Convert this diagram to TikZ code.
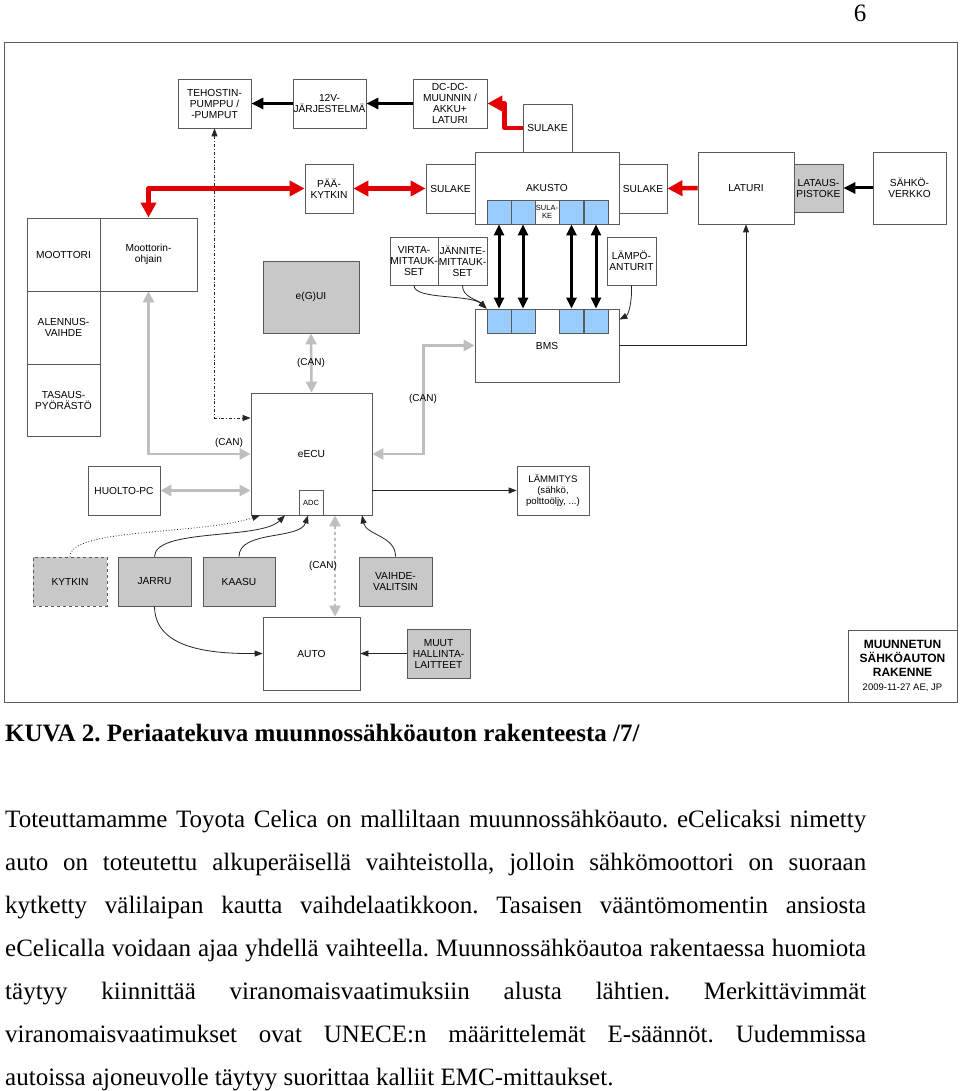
\documentclass[tikz,border=0pt]{standalone}
\usepackage{fontspec}
\setmainfont{Liberation Serif}
\newfontfamily\dgfont{Liberation Sans}
\usetikzlibrary{arrows.meta}
\definecolor{cellblue}{RGB}{153,204,255}
\definecolor{boxgray}{RGB}{200,200,200}
\definecolor{arrgray}{RGB}{190,190,190}
\definecolor{arrred}{RGB}{228,0,0}
\definecolor{framegray}{RGB}{90,90,90}
\frenchspacing
\begin{document}
\begin{tikzpicture}[x=1pt,y=-1pt,
  box/.style={draw=framegray, line width=0.8pt, align=center, inner sep=0pt,
    font=\dgfont\fontsize{10.2}{11}\selectfont},
  gbox/.style={box, fill=boxgray},
  cell/.style={draw=framegray, line width=0.8pt, fill=cellblue, minimum width=24pt, minimum height=24pt, inner sep=0pt},
  redarr/.style={draw=arrred, line width=4.5pt, arrows={-Triangle[length=15pt,width=15pt]}},
  redarrb/.style={draw=arrred, line width=4.5pt, arrows={Triangle[length=15pt,width=15pt]-Triangle[length=15pt,width=15pt]}},
  blkarr/.style={draw=black, line width=3pt, arrows={-Triangle[length=12pt,width=11pt]}},
  blkarrb/.style={draw=black, line width=3pt, arrows={Triangle[length=11pt,width=10pt]-Triangle[length=11pt,width=10pt]}},
  grayarrb/.style={draw=arrgray, line width=2.6pt, arrows={Triangle[length=11pt,width=11pt]-Triangle[length=11pt,width=11pt]}},
  thinarr/.style={draw=black!85, line width=0.8pt, arrows={-Triangle[length=8pt,width=6pt]}},
  thinarrb/.style={draw=black!85, line width=0.8pt, arrows={Triangle[length=8pt,width=6pt]-Triangle[length=8pt,width=6pt]}},
  canlbl/.style={font=\dgfont\fontsize{10}{11}\selectfont, inner sep=1pt},
  bodyline/.style={anchor=base west, inner sep=0pt, font=\fontsize{25}{30}\selectfont}
]
\useasboundingbox (0,0) rectangle (960,1091);
\fill[white] (0,0) rectangle (960,1091);

% page number
\node[anchor=base, inner sep=0pt, font=\fontsize{25}{30}\selectfont] (pnum) at (860,22) {6};

% frame
\draw[framegray, line width=1pt] (4,43) rectangle (957,702);

% top row
\node[box, minimum width=73pt, minimum height=49pt] (teh) at (214.5,103.5) {TEHOSTIN-\\PUMPPU /\\-PUMPUT};
\node[box, minimum width=73pt, minimum height=49pt] (v12) at (329.5,103.5) {12V-\\JÄRJESTELMÄ};
\node[box, minimum width=74pt, minimum height=49pt] (dcdc) at (450,103.5) {DC-DC-\\MUUNNIN /\\AKKU+\\LATURI};

\node[box, minimum width=48pt, minimum height=49pt] (paa) at (329,188.5) {PÄÄ-\\KYTKIN};
\node[box, minimum width=49pt, minimum height=49pt] (sulL) at (450.5,188.5) {SULAKE};
\node[box, minimum width=49pt, minimum height=48pt] (sulT) at (547.5,128) {SULAKE};
\node[box, minimum width=48pt, minimum height=49pt] (sulR) at (643,188.5) {SULAKE};
\node[box, minimum width=144pt, minimum height=72pt] (akusto) at (547,188) {AKUSTO};
\node[box, minimum width=96pt, minimum height=72pt] (laturi) at (746,188) {LATURI};
\node[gbox, minimum width=49pt, minimum height=48pt] (lataus) at (818.5,188) {LATAUS-\\PISTOKE};
\node[box, minimum width=73pt, minimum height=72pt] (sahko) at (909.5,188) {SÄHKÖ-\\VERKKO};

% akusto cells
\node[cell] (a1) at (499,212) {};
\node[cell] (a2) at (523,212) {};
\node[cell, fill=white, font=\dgfont\fontsize{7.5}{8.5}\selectfont, align=center] (asul) at (547,212) {SULA-\\KE};
\node[cell] (a3) at (571.5,212) {};
\node[cell] (a4) at (596,212) {};

% left column
\node[box, minimum width=73pt, minimum height=73pt] (moot) at (63.5,254.5) {MOOTTORI};
\node[box, minimum width=97pt, minimum height=73pt] (mohj) at (148.5,254.5) {Moottorin-\\ohjain};
\node[box, minimum width=73pt, minimum height=73pt] (alen) at (63.5,327.5) {ALENNUS-\\VAIHDE};
\node[box, minimum width=73pt, minimum height=72pt] (tasa) at (63.5,400) {TASAUS-\\PYÖRÄSTÖ};

% middle
\node[gbox, minimum width=96pt, minimum height=72pt] (egui) at (311,297) {e(G)UI};
\node[box, minimum width=121pt, minimum height=122pt] (eecu) at (311.5,454) {eECU};
\node[box, minimum width=24pt, minimum height=25pt, font=\dgfont\fontsize{7.5}{8.5}\selectfont] (adc) at (311,502.5) {ADC};

\node[box, minimum width=48pt, minimum height=48pt] (virta) at (414,261) {VIRTA-\\MITTAUK-\\SET};
\node[box, minimum width=49pt, minimum height=48pt] (jann) at (462.5,261) {JÄNNITE-\\MITTAUK-\\SET};
\node[box, minimum width=49pt, minimum height=48pt] (lampo) at (631.5,261) {LÄMPÖ-\\ANTURIT};

\node[box, minimum width=144pt, minimum height=73pt] (bms) at (547,345.5) {BMS};
\node[cell] (b1) at (499,321) {};
\node[cell] (b2) at (523,321) {};
\node[cell] (b3) at (571.5,321) {};
\node[cell] (b4) at (596,321) {};

\node[box, minimum width=72pt, minimum height=49pt, font=\dgfont\fontsize{9.6}{10.8}\selectfont] (lamm) at (553,490.5) {LÄMMITYS\\(sähkö,\\polttoöljy, ...)};
\node[box, minimum width=72pt, minimum height=49pt] (huolto) at (124,490.5) {HUOLTO-PC};

% bottom row
\node[gbox, dashed, minimum width=74pt, minimum height=49pt] (kytkin) at (70,581.5) {KYTKIN};
\node[gbox, minimum width=73pt, minimum height=49pt] (jarru) at (154.5,581.5) {JARRU};
\node[gbox, minimum width=72pt, minimum height=49pt] (kaasu) at (239,581.5) {KAASU};
\node[gbox, minimum width=73pt, minimum height=49pt] (vaihde) at (395.5,581.5) {VAIHDE-\\VALITSIN};
\node[box, minimum width=97pt, minimum height=73pt] (auto) at (311.5,653.5) {AUTO};
\node[gbox, minimum width=63pt, minimum height=49pt] (muut) at (438.5,653.5) {MUUT\\HALLINTA-\\LAITTEET};

% title box
\node[box, minimum width=109pt, minimum height=72pt, font=\dgfont\bfseries\fontsize{12}{14.3}\selectfont] (title) at (902.5,666)
  {MUUNNETUN\\SÄHKÖAUTON\\RAKENNE\\[-0.5pt]\mdseries\fontsize{9.5}{11}\selectfont 2009-11-27 AE, JP};

% ---- connectors ----
\draw[blkarr] (v12.west) -- (teh.east);
\draw[blkarr] (dcdc.west) -- (v12.east);
\draw[blkarr] (sahko.west) -- (lataus.east);

\draw[redarr, line join=round] (sulT.west) -- ++(-18,0) |- (dcdc.east);
\draw[redarrb, line join=round] (mohj.north) |- (paa.west);
\draw[redarrb] (paa.east) -- (sulL.west);
\draw[redarr] (laturi.west) -- (sulR.east);

\draw[thinarrb, dash dot] (teh.south) |- ([yshift=36pt]eecu.west);

\draw[grayarrb] (egui.south) -- (eecu.north);
\draw[grayarrb] (eecu.east) -- ++(51,0) |- (bms.west);
\draw[grayarrb] (mohj.south) |- (eecu.west);
\draw[grayarrb] (huolto.east) -- (huolto.east -| eecu.west);
\draw[grayarrb, dashed] ([xshift=23.5pt]eecu.south) -- ([xshift=23.5pt]auto.north);

\node[canlbl] (can1) at (311,363) {(CAN)};
\node[canlbl] (can2) at (423,399) {(CAN)};
\node[canlbl] (can3) at (229,443) {(CAN)};
\node[canlbl] (can4) at (323,566) {(CAN)};

\draw[thinarr] (lamm.west -| eecu.east) -- (lamm.west);
\draw[thinarr] (bms.east) -| (laturi.south);

\draw[blkarrb] (a1.south) -- (b1.north);
\draw[blkarrb] (a2.south) -- (b2.north);
\draw[blkarrb] (a3.south) -- (b3.north);
\draw[blkarrb] (a4.south) -- (b4.north);

\draw[thinarr] (virta.south) .. controls (414,300) and (470,294) .. (b1.north west);
\draw[thinarr] (jann.south) .. controls (462,297) and (478,300) .. (b1.north west);
\draw[thinarr] (lampo.south) .. controls (632,305) and (628,315) .. ([yshift=-11pt]bms.north east);

\draw[thinarr, dotted] (kytkin.north) .. controls (70,528) and (200,535) .. ([xshift=-51.5pt]eecu.south);
\draw[thinarr] (jarru.north) .. controls (155,528) and (260,540) .. ([xshift=-26.5pt]eecu.south);
\draw[thinarr] (kaasu.north) .. controls (239,530) and (300,540) .. ([xshift=-3pt]adc.south);
\draw[thinarr] (vaihde.north) .. controls (396,536) and (366,535) .. ([xshift=50.5pt]eecu.south);
\draw[thinarr] (jarru.south) .. controls (155,645) and (200,654) .. (auto.west);
\draw[thinarr] (muut.west) -- (auto.east);

% ---- caption and body ----
\node[bodyline, font=\bfseries\fontsize{25}{30}\selectfont] (cap) at (5,741) {KUVA 2. Periaatekuva muunnossähköauton rakenteesta /7/};
\node[bodyline] (l1) at (5,827) {\makebox[861pt][s]{Toteuttamamme Toyota Celica on malliltaan muunnossähköauto. eCelicaksi nimetty}};
\node[bodyline] (l2) at (5,870) {\makebox[861pt][s]{auto on toteutettu alkuperäisellä vaihteistolla, jolloin sähkömoottori on suoraan}};
\node[bodyline] (l3) at (5,913) {\makebox[861pt][s]{kytketty välilaipan kautta vaihdelaatikkoon. Tasaisen vääntömomentin ansiosta}};
\node[bodyline] (l4) at (5,956) {\makebox[861pt][s]{eCelicalla voidaan ajaa yhdellä vaihteella. Muunnossähköautoa rakentaessa huomiota}};
\node[bodyline] (l5) at (5,999) {\makebox[861pt][s]{täytyy kiinnittää viranomaisvaatimuksiin alusta lähtien. Merkittävimmät}};
\node[bodyline] (l6) at (5,1042) {\makebox[861pt][s]{viranomaisvaatimukset ovat UNECE:n määrittelemät E-säännöt. Uudemmissa}};
\node[bodyline] (l7) at (5,1085) {autoissa ajoneuvolle täytyy suorittaa kalliit EMC-mittaukset.};
\end{tikzpicture}
\end{document}
